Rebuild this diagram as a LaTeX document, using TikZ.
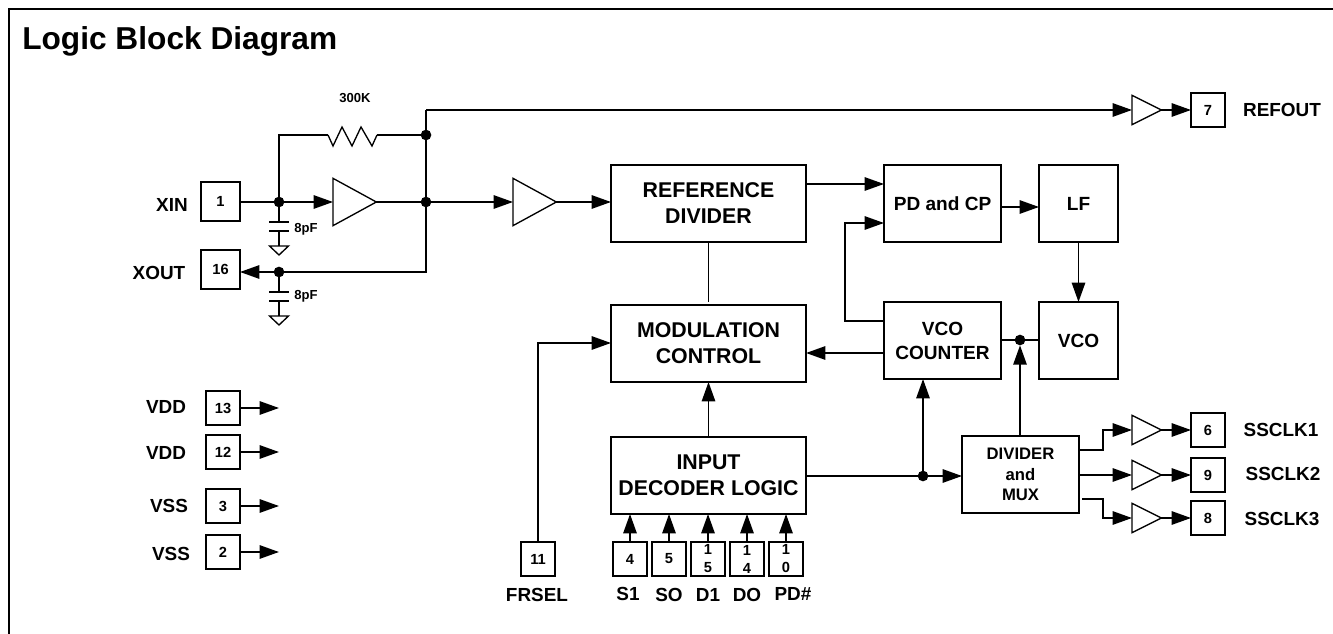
\documentclass[tikz,border=0pt]{standalone}
\usepackage{fontspec}
\setmainfont{Liberation Sans}
\usepackage{tikz}
\usetikzlibrary{arrows.meta,shapes.geometric}

\tikzset{
    wire/.style={line width=1.35pt},
    sig/.style={wire, -{Triangle[length=14.5pt,width=10pt]}},
    block/.style={draw, line width=1.4pt, rectangle, minimum width=#1, minimum height=57.75pt, inner sep=0pt, outer sep=0pt, align=center, font=\fontsize{16}{19.5}\selectfont\bfseries},
    smallblock/.style={block=#1, font=\fontsize{14.3}{18}\selectfont\bfseries},
    pinbox/.style={draw, line width=1.4pt, rectangle, minimum size=25.5pt, inner sep=0pt, outer sep=0pt, align=center, font=\fontsize{11}{13.5}\selectfont\bfseries},
    pinname/.style={font=\fontsize{14.2}{16}\selectfont\bfseries},
    dot/.style={circle, fill=black, minimum size=8pt, inner sep=0pt, outer sep=0pt},
    buf/.style 2 args={draw, line width=1pt, isosceles triangle, isosceles triangle stretches, shape border rotate=0, minimum height=#1, minimum width=#2, inner sep=0pt, outer sep=0pt, anchor=lower side},
    small/.style={font=\fontsize{9.8}{12}\selectfont\bfseries}
}

\begin{document}
\begin{tikzpicture}[x=0.75pt, y=-0.75pt]
        \useasboundingbox (0,0) rectangle (1333,634);
        % Frame
        \coordinate (fbl) at (9,634);
        \coordinate (ftl) at (9,9);
        \coordinate (ftr) at (1333,9);
        \draw[line width=1.9pt] (fbl) -- (ftl) -- (ftr);
        \node[anchor=base west, inner sep=0pt, font=\fontsize{23.75}{28}\selectfont\bfseries] (title) at (22,50) {Logic Block Diagram};

        % Crystal pins
        \node[pinbox, minimum size=29.25pt] (pin1) at (220.5,201.5) {1};
        \node[pinbox, minimum size=29.25pt] (pin16) at (220.5,269.5) {16};
        \node[pinname] (xin) at (172,205) {XIN};
        \node[pinname] (xout) at (159,273) {XOUT};
        \node[dot] (jin) at (279,202) {};
        \node[dot] (jout) at (279,272) {};
        \node[dot] (jtop) at (426,135) {};
        \node[dot] (jmid) at (426,202) {};
        \node[buf={32.5pt}{35.5pt}] (amp) at (333,202) {};
        \draw[wire] (pin1.east |- jin) -- (jin);
        \draw[sig] (jin) -- (amp.lower side);
        \draw[wire] (amp.apex) -- (jmid);
        \draw[sig] (jout) -- (pin16.east |- jout);
        \draw[wire] (jout) -| (jmid);
        \draw[wire] (jmid) -- (jtop);

        % Resistor
        \node[small] (rlabel) at (355,98) {300K};
        \coordinate (rin) at (328,135);
        \coordinate (rout) at (377,135);
        \draw[wire] (jin) |- (rin);
        \draw[line width=1pt] (rin) -- (333,146) -- (342,127) -- (352,146) -- (361,127) -- (372,146) -- (rout);
        \draw[wire] (rout) -- (jtop);

        % Capacitors
        \foreach \name/\yy in {jin/202, jout/272} {
            \coordinate (\name p1) at (279,\yy+20);
            \coordinate (\name p2) at (279,\yy+29);
            \coordinate (\name g) at (279,\yy+44);
            \draw[wire] (\name) -- (\name p1);
            \draw[wire] (269,\yy+20) -- (289,\yy+20);
            \draw[wire] (269,\yy+29) -- (289,\yy+29);
            \draw[wire] (\name p2) -- (\name g);
            \draw[line width=1pt] (269.5,\yy+44) -- (288.5,\yy+44) -- (279,\yy+53) -- cycle;
        }
        \node[small] (cap1) at (306,229) {8pF};
        \node[small] (cap2) at (306,296) {8pF};

        % Reference output
        \node[buf={22pt}{22pt}] (refbuf) at (1132,110) {};
        \node[pinbox] (pin7) at (1208,110) {7};
        \node[pinname] (refout) at (1282,110) {REFOUT};
        \coordinate (jtopup) at (426,110);
        \draw[wire] (jtop) -- (jtopup);
        \draw[sig] (jtopup) -- (refbuf.lower side);
        \draw[sig] (refbuf.apex) -- (pin7.west |- refbuf.apex);

        % Main blocks
        \node[block=146.25pt] (refdiv) at (708.5,203.5) {REFERENCE\\DIVIDER};
        \node[block=146.25pt] (modctl) at (708.5,343.5) {MODULATION\\CONTROL};
        \node[block=146.25pt] (decoder) at (708.5,475.5) {INPUT\\DECODER LOGIC};
        \node[smallblock=87.75pt] (pdcp) at (942.5,203.5) {PD and CP};
        \node[smallblock=59.25pt] (lf) at (1078.5,203.5) {LF};
        \node[smallblock=87.75pt] (vcocnt) at (942.5,340.5) {VCO\\COUNTER};
        \node[smallblock=59.25pt] (vco) at (1078.5,340.5) {VCO};
        \node[block=87.75pt, font=\fontsize{12.5}{15.4}\selectfont\bfseries] (divmux) at (1020.5,474.5) {DIVIDER\\and\\MUX};
        \node[buf={32.5pt}{35.5pt}] (inbuf) at (513,202) {};

        \draw[sig] (jmid) -- (inbuf.lower side);
        \draw[sig] (inbuf.apex) -- (refdiv.west |- inbuf.apex);
        \coordinate (rdout) at (806,184);
        \draw[sig] (rdout) -- (pdcp.west |- rdout);
        \coordinate (pdout) at (1001,207);
        \draw[sig] (pdout) -- (lf.west |- pdout);
        \draw[sig] (lf) -- (vco);
        \draw[wire, shorten >=2.2pt] (refdiv) -- (modctl);
        \draw[sig] (decoder) -- (modctl);
        \coordinate (fbout) at (884,321);
        \coordinate (fbin) at (845,223);
        \draw[sig] (fbout) -| (fbin) -- (pdcp.west |- fbin);
        \coordinate (cntout) at (884,353);
        \draw[sig] (cntout) -- (modctl.east |- cntout);
        \node[dot] (jvco) at (1020,340) {};
        \draw[wire] (vco.west |- jvco) -- (vcocnt.east |- jvco);
        \draw[sig] (divmux.north -| jvco) -- (jvco);
        \node[dot] (jdec) at (923,476) {};
        \draw[wire] (decoder.east |- jdec) -- (jdec);
        \draw[sig] (jdec) -- (divmux.west |- jdec);
        \draw[sig] (jdec) -- (jdec |- vcocnt.south);

        % Clock outputs
        \foreach \nm/\num/\yy/\ox/\oy in {a/6/430/1079/450, b/9/475/1079/475, c/8/518/1082/499} {
            \node[buf={22pt}{22pt}] (buf\nm) at (1132,\yy) {};
            \node[pinbox] (pin\nm) at (1208,\yy) {\num};
            \coordinate (out\nm) at (\ox,\oy);
            \coordinate (bend\nm) at (1103,\yy);
            \draw[sig] (out\nm) -| (bend\nm) -- (buf\nm.lower side);
            \draw[sig] (buf\nm.apex) -- (pin\nm.west);
        }
        \node[pinname] (ssa) at (1281,430) {SSCLK1};
        \node[pinname] (ssb) at (1283,474) {SSCLK2};
        \node[pinname] (ssc) at (1282,519) {SSCLK3};

        % Supply pins
        \foreach \nm/\num/\yy in {p13/13/408, p12/12/452, p3/3/506, p2/2/552} {
            \node[pinbox] (\nm) at (223,\yy) {\num};
            \coordinate (\nm end) at (279,\yy);
            \draw[sig] (\nm) -- (\nm end);
        }
        \node[pinname] (vdda) at (166,407) {VDD};
        \node[pinname] (vddb) at (166,453) {VDD};
        \node[pinname] (vssa) at (169,506) {VSS};
        \node[pinname] (vssb) at (171,554) {VSS};

        % Mode pins
        \node[pinbox] (pin11) at (538,559) {11};
        \node[pinname] (frsel) at (537,595) {FRSEL};
        \coordinate (frbend) at (538,343);
        \draw[sig] (pin11) -- (frbend) -- (modctl.west |- frbend);
        \foreach \nm/\num/\xx/\lx/\ly/\txt in {pa/4/630/628/594/S1, pb/5/669/669/595/SO, pc/{1\\5}/708/708/595/D1, pd/{1\\4}/747/747/595/DO, pe/{1\\0}/786/793/594/PD\#} {
            \node[pinbox] (\nm) at (\xx,559) {\num};
            \node[pinname] (\nm l) at (\lx,\ly) {\txt};
            \draw[sig] (\nm) -- (\nm |- decoder.south);
        }
    \end{tikzpicture}
\end{document}
